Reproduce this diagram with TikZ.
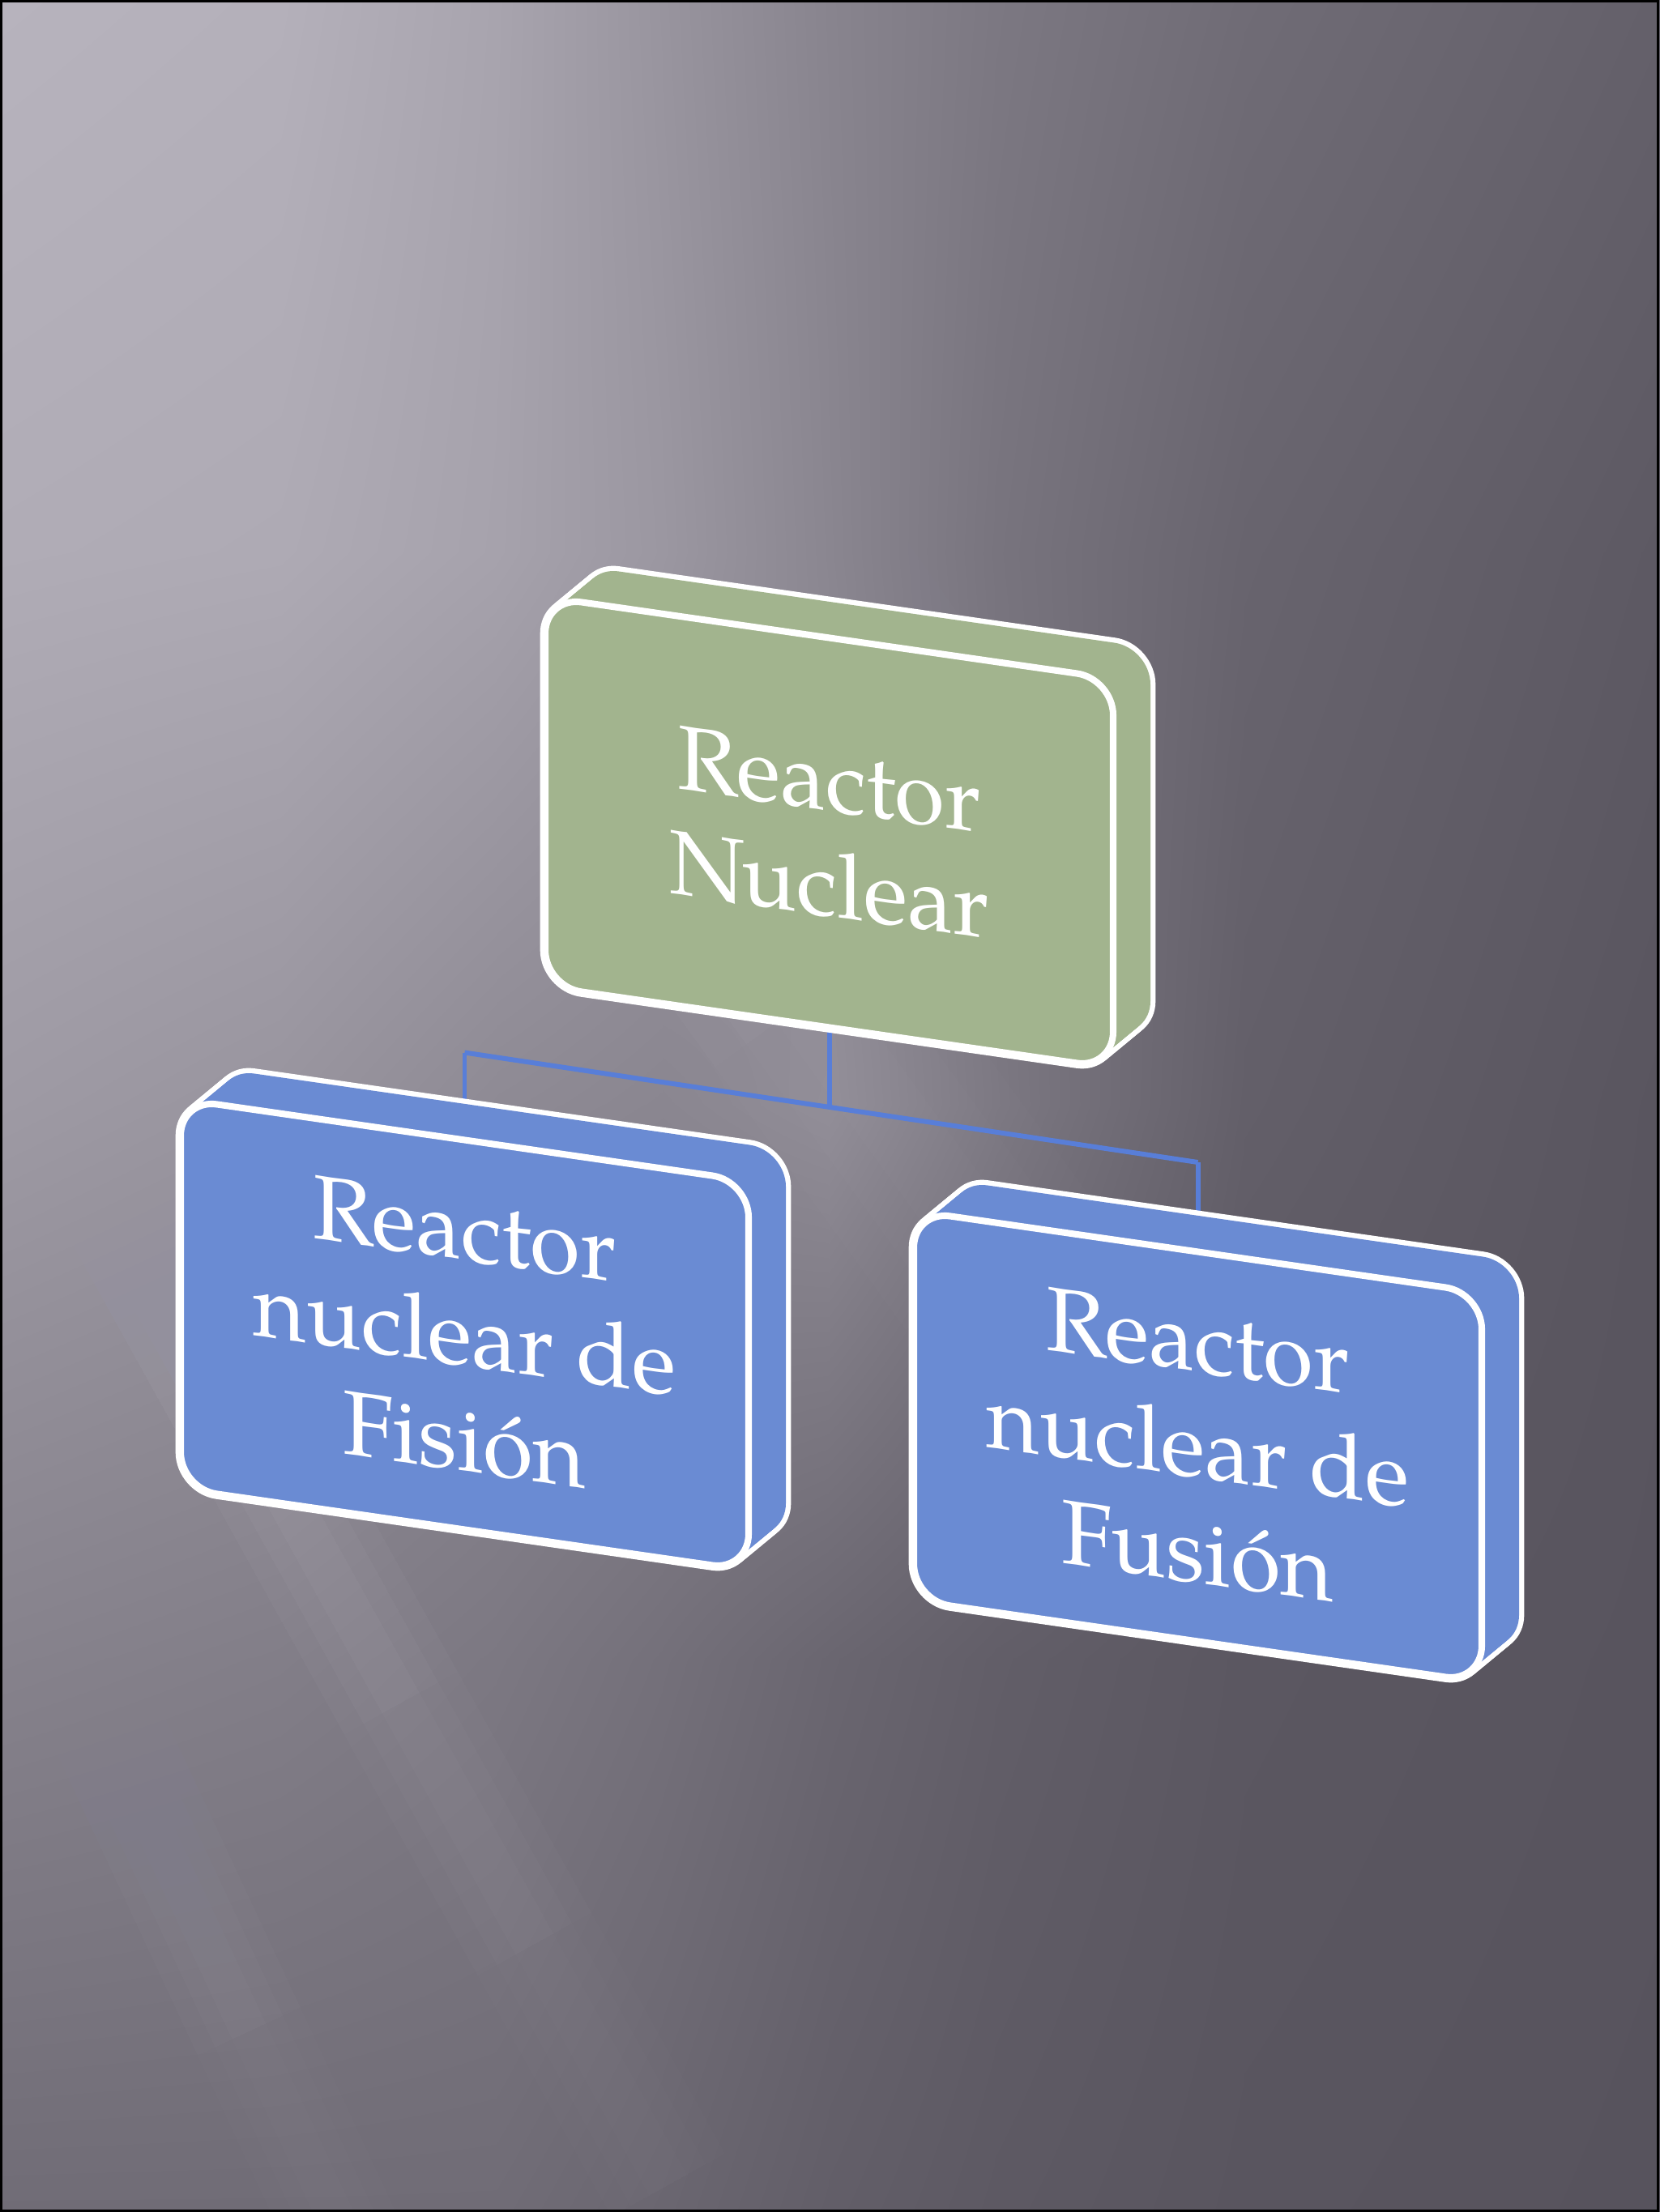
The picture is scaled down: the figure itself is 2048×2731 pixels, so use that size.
\documentclass[tikz,border=0pt]{standalone}
\usepackage{fontspec}
\setmainfont{TeX Gyre Pagella}
\usetikzlibrary{calc,shadings}
\definecolor{boxgreen}{RGB}{162,180,142}
\definecolor{boxblue}{RGB}{106,139,211}
\definecolor{connblue}{RGB}{88,126,216}
\definecolor{glowc}{RGB}{210,207,220}
\pgfdeclarelayer{bglayer}
\pgfdeclarelayer{connlayer}
\pgfsetlayers{bglayer,connlayer,main}

\tikzset{
  conn/.style={connblue, line width=1.7pt},
  boxline/.style={white, line width=2.3pt},
  boxtext/.style={text=white, align=center, font=\fontsize{32}{37}\selectfont, transform shape, inner sep=0pt},
}

% grey level -> tinted grey colour
\newcommand{\gcol}[2]{%
  \pgfmathtruncatemacro{\gga}{#2-4}%
  \pgfmathtruncatemacro{\ggb}{#2+6}%
  \definecolor{#1}{RGB}{#2,\gga,\ggb}}

% background grid (8 columns of nodes x 5 rows of nodes)
\def\GX{{0,348,614,819,1024,1229,1536,2048}}
\def\GY{{0,683,1365,2048,2731}}
\def\GV{{183,180,168,152,136,124,112,100,
         176,174,166,155,138,120,104,93,
         158,152,142,138,144,124,99,89,
         134,130,124,116,106,98,91,88,
         112,112,112,106,98,93,89,87}}

% name, x, y, colour, text
\newcommand{\slantbox}[5]{%
\begin{scope}[shift={(#2,#3)}, yslant=-0.144]
  \foreach \kk in {0,...,16}{
    \draw[white, line width=3.6pt, rounded corners=0.45cm] ({46*\kk/16},{-44.6*\kk/16}) rectangle ++(701,481);
  }
  \foreach \kk in {0,...,16}{
    \fill[#4, rounded corners=0.45cm] ({46*\kk/16},{-44.6*\kk/16}) rectangle ++(701,481);
  }
  \draw[boxline, fill=#4, rounded corners=0.45cm] (0,0) rectangle (701,481);
  \node[boxtext] (#1) at (350.5,240.5) {#5};
  \coordinate (#1-s) at (350.5,481);
  \coordinate (#1-n) at (350.5,0);
\end{scope}}

% soft light streak: x, y, angle, width (cm), length (cm), opacity
\newcommand{\lightray}[6]{%
\begin{scope}[shift={(#1,#2)}, rotate=#3, x=1cm, y=1cm]
  \pgfmathsetmacro{\op}{#6/15}
  \foreach \ii in {1,...,5}{
    \foreach \ww in {1,0.66,0.33}{
      \fill[glowc, opacity=\op] (0,{-#4*\ww/2}) rectangle ({#5*\ii/5},{#4*\ww/2});
    }
  }
\end{scope}}

\begin{document}
\begin{tikzpicture}[x=0.01cm, y=-0.01cm]
\useasboundingbox (0,0) rectangle (2048,2731);

\begin{pgfonlayer}{bglayer}
  \foreach \rr in {0,...,3}{
    \foreach \cc in {0,...,6}{
      \pgfmathtruncatemacro{\ia}{\rr*8+\cc}
      \pgfmathtruncatemacro{\va}{\GV[\ia]}
      \pgfmathtruncatemacro{\vb}{\GV[\ia+1]}
      \pgfmathtruncatemacro{\vc}{\GV[\ia+8]}
      \pgfmathtruncatemacro{\vd}{\GV[\ia+9]}
      \gcol{cUL}{\va}\gcol{cUR}{\vb}\gcol{cLL}{\vc}\gcol{cLR}{\vd}
      \pgfmathsetmacro{\xa}{\GX[\cc]-1}
      \pgfmathsetmacro{\xb}{\GX[\cc+1]+1}
      \pgfmathsetmacro{\ya}{\GY[\rr]-1}
      \pgfmathsetmacro{\yb}{\GY[\rr+1]+1}
      \shade[upper left=cUL, upper right=cUR, lower left=cLL, lower right=cLR] (\xa,\ya) rectangle (\xb,\yb);
    }
  }
  \begin{scope}
    \clip (0,0) rectangle (2048,2731);
    \lightray{55}{-60}{-54}{2.8}{20}{0.22}
    \lightray{500}{-60}{-55}{1.8}{12}{0.20}
    \lightray{0}{1210}{-61}{1.6}{17}{0.26}
    \lightray{-200}{1420}{-65}{1.4}{15}{0.20}
    \lightray{-60}{1300}{-58}{1.1}{13}{0.14}
  \end{scope}
  \draw[black, line width=0.9pt] (1.5,1.5) rectangle (2046.5,2729.5);
\end{pgfonlayer}

\slantbox{top}{673}{737}{boxgreen}{Reactor\\Nuclear}
\slantbox{fis}{223}{1357}{boxblue}{Reactor\\nuclear de\\Fisión}
\slantbox{fus}{1128}{1495}{boxblue}{Reactor\\nuclear de\\Fusión}

\begin{pgfonlayer}{connlayer}
  \coordinate (busM) at (1023.5,1367);
  \coordinate (busL) at (573.5,1299.5);
  \coordinate (busR) at (1478.5,1435);
  \draw[conn] (top-s) -- (busM);
  \draw[conn] (busL) -- (busR);
  \draw[conn] (busL) -- (fis-n);
  \draw[conn] (busR) -- (fus-n);
\end{pgfonlayer}
\end{tikzpicture}
\end{document}
